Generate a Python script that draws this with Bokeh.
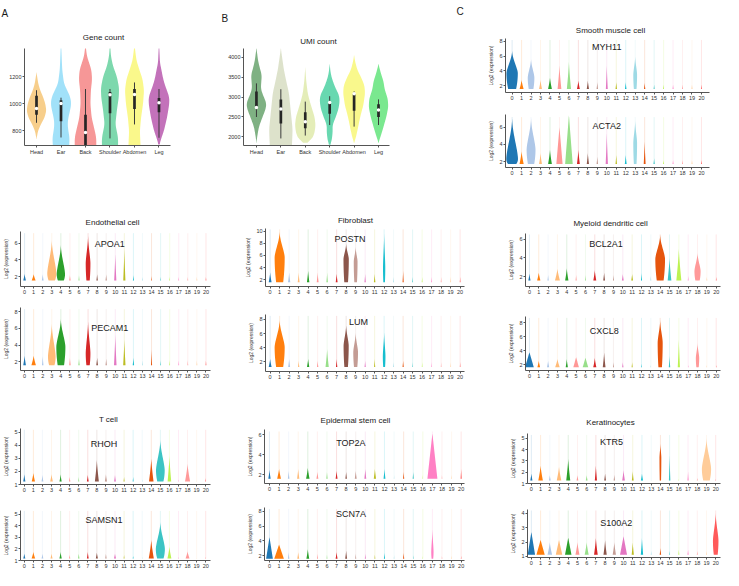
import numpy as np
from bokeh.plotting import figure
from bokeh.models import Range1d, FixedTicker, Label, Title
from bokeh.layouts import row, column
from bokeh.embed import file_html
from bokeh.resources import INLINE

FONT = "Liberation Sans"

# ---------------- data: panel A / B ----------------
SITES = ["Head", "Ear", "Back", "Shoulder", "Abdomen", "Leg"]
GENE_COLORS = ["#f5c06a", "#86d9f7", "#f47a7a", "#58cd96", "#f8f66a", "#b24aa6"]
UMI_COLORS = ["#5b9b60", "#d3dabd", "#dce8a4", "#3ecd9a", "#f7f66b", "#55e26f"]

# violin outlines: (value, half width)
GENE_SHAPE_HEAD = [(740, 0), (800, 0.06), (850, 0.18), (900, 0.33), (950, 0.40), (1000, 0.36), (1050, 0.27), (1100, 0.15), (1150, 0.07), (1230, 0)]
GENE_SHAPE_EAR = [(680, 0.33), (750, 0.35), (800, 0.30), (850, 0.27), (900, 0.30), (950, 0.37), (1000, 0.42), (1050, 0.38), (1100, 0.25), (1150, 0.12), (1250, 0.05), (1420, 0.01)]
GENE_SHAPE_BACK = [(680, 0.44), (750, 0.44), (800, 0.38), (900, 0.25), (1000, 0.20), (1100, 0.22), (1180, 0.27), (1250, 0.24), (1300, 0.15), (1350, 0.06), (1420, 0.01)]
GENE_SHAPE_SHOULDER = [(680, 0.33), (750, 0.33), (850, 0.22), (950, 0.28), (1050, 0.36), (1120, 0.37), (1200, 0.28), (1280, 0.12), (1350, 0.04), (1420, 0.01)]
GENE_SHAPE_ABDOMEN = [(680, 0.25), (800, 0.22), (900, 0.27), (1000, 0.35), (1100, 0.39), (1180, 0.33), (1250, 0.20), (1320, 0.08), (1420, 0.01)]
GENE_SHAPE_LEG = [(700, 0.02), (750, 0.10), (800, 0.20), (900, 0.33), (1000, 0.42), (1050, 0.42), (1100, 0.32), (1150, 0.22), (1200, 0.15), (1250, 0.10), (1300, 0.04), (1420, 0.01)]
GENE_Q1 = [920, 871, 693, 931, 962, 938]
GENE_Q3 = [1060, 1026, 919, 1086, 1109, 1043]
GENE_MED = [965, 1002, 788, 1067, 1069, 1007]
GENE_WLO = [860, 752, 693, 745, 848, 750]
GENE_WHI = [1100, 1045, 1109, 1109, 1157, 1109]

UMI_SHAPE_HEAD = [(1855, 0), (2000, 0.03), (2250, 0.10), (2500, 0.25), (2700, 0.38), (2850, 0.41), (3000, 0.30), (3200, 0.18), (3400, 0.20), (3550, 0.22), (3700, 0.15), (3900, 0.07), (4224, 0)]
UMI_SHAPE_EAR = [(1750, 0.45), (2000, 0.47), (2200, 0.48), (2500, 0.43), (2800, 0.38), (3100, 0.33), (3400, 0.22), (3700, 0.12), (4000, 0.05), (4224, 0)]
UMI_SHAPE_BACK = [(1850, 0.05), (1950, 0.28), (2100, 0.38), (2300, 0.42), (2500, 0.38), (2700, 0.28), (2900, 0.18), (3100, 0.10), (3400, 0.04), (3742, 0)]
UMI_SHAPE_SHOULDER = [(1800, 0.02), (1900, 0.08), (2100, 0.12), (2300, 0.12), (2500, 0.25), (2700, 0.36), (2900, 0.41), (3050, 0.38), (3250, 0.22), (3450, 0.10), (3600, 0.04), (3823, 0)]
UMI_SHAPE_ABDOMEN = [(1855, 0), (2000, 0.08), (2200, 0.15), (2500, 0.25), (2800, 0.38), (3100, 0.45), (3300, 0.42), (3500, 0.28), (3700, 0.12), (3900, 0.04), (4040, 0)]
UMI_SHAPE_LEG = [(1855, 0), (2000, 0.08), (2200, 0.18), (2500, 0.32), (2750, 0.40), (2950, 0.38), (3200, 0.25), (3400, 0.20), (3550, 0.12), (3700, 0.05), (3823, 0)]
UMI_Q1 = [2739, 2337, 2217, 2578, 2658, 2498]
UMI_Q3 = [3140, 2940, 2619, 2860, 3084, 2819]
UMI_MED = [2739, 2699, 2378, 2860, 3084, 2675]
UMI_WLO = [2498, 1960, 2032, 2297, 2257, 2297]
UMI_WHI = [3342, 3195, 2884, 3020, 3140, 2940]

# ---------------- data: cluster violins ----------------
CLUSTERS = list(range(21))
PALETTE = ["#1f77b4", "#ff7f0e", "#aec7e8", "#ffbb78", "#2ca02c", "#ff9896", "#98df8a",
           "#d62728", "#8c564b", "#c49c94", "#e377c2", "#bcbd22", "#17becf", "#9edae5",
           "#e6550d", "#3cc4c4", "#bdf252", "#ff80c4", "#ff9999", "#ffcc99", "#ff5a5a"]

# H: top of the visible violin body, W: half width, P: value of widest point (0 = at the base)
MYH11_H = [6.8, 2.8, 5.7, 2.8, 3.1, 4.8, 5.3, 2.7, 2.7, 2.5, 4.8, 2.5, 2.5, 6.1, 2.4, 2.2, 2.2, 2.2, 2.2, 2.2, 2.2]
MYH11_W = [0.60, 0.21, 0.35, 0.15, 0.20, 0.20, 0.22, 0.15, 0.12, 0.08, 0.10, 0.08, 0.08, 0.20, 0.07, 0.05, 0.05, 0.05, 0.05, 0.05, 0.05]
MYH11_P = [3.7, 0, 3.1, 0, 0, 0, 0, 0, 0, 0, 0, 0, 0, 3.5, 0, 0, 0, 0, 0, 0, 0]

ACTA2_H = [7.2, 3.2, 7.2, 3.0, 3.4, 6.0, 7.4, 3.4, 3.0, 2.6, 5.4, 2.8, 2.8, 6.9, 4.4, 2.4, 2.2, 2.2, 2.2, 2.2, 2.2]
ACTA2_W = [0.62, 0.22, 0.47, 0.15, 0.20, 0.33, 0.40, 0.15, 0.12, 0.08, 0.12, 0.08, 0.10, 0.20, 0.10, 0.07, 0.05, 0.05, 0.05, 0.05, 0.05]
ACTA2_P = [2.3, 0, 3.4, 0, 0, 0, 0, 0, 0, 0, 0, 0, 0, 4.2, 0, 0, 0, 0, 0, 0, 0]

APOA1_H = [2.35, 2.3, 2.3, 6.5, 5.9, 2.2, 2.2, 7.0, 2.3, 2.3, 4.8, 5.4, 2.2, 2.0, 2.1, 2.0, 2.0, 2.0, 2.0, 2.0, 2.0]
APOA1_W = [0.15, 0.22, 0.10, 0.50, 0.46, 0.08, 0.06, 0.26, 0.08, 0.08, 0.12, 0.12, 0.06, 0.04, 0.04, 0.04, 0.04, 0.04, 0.04, 0.04, 0.04]
APOA1_P = [0, 0, 0, 2.4, 2.3, 0, 0, 3.6, 0, 0, 0, 0, 0, 0, 0, 0, 0, 0, 0, 0, 0]

PECAM1_H = [2.75, 2.75, 2.7, 6.7, 7.2, 2.5, 2.4, 7.0, 2.5, 2.4, 5.3, 4.7, 2.5, 2.2, 3.5, 2.2, 2.2, 2.2, 2.2, 2.2, 2.2]
PECAM1_W = [0.15, 0.25, 0.08, 0.42, 0.50, 0.08, 0.08, 0.26, 0.10, 0.08, 0.14, 0.13, 0.08, 0.04, 0.06, 0.04, 0.04, 0.04, 0.04, 0.04, 0.04]
PECAM1_P = [0, 0, 0, 2.6, 3.8, 0, 0, 3.0, 0, 0, 0, 0, 0, 0, 0, 0, 0, 0, 0, 0, 0]

POSTN_H = [3.2, 10.0, 3.2, 3.2, 3.5, 3.2, 3.2, 3.0, 8.0, 7.5, 3.0, 3.0, 10.0, 2.5, 3.5, 2.5, 2.5, 2.5, 2.5, 2.5, 2.5]
POSTN_W = [0.15, 0.53, 0.12, 0.10, 0.13, 0.10, 0.08, 0.10, 0.28, 0.20, 0.07, 0.08, 0.12, 0.04, 0.06, 0.04, 0.04, 0.04, 0.04, 0.04, 0.04]
POSTN_P = [0, 5.7, 0, 0, 0, 0, 0, 0, 5.4, 5.0, 0, 0, 4.0, 0, 0, 0, 0, 0, 0, 0, 0]

LUM_H = [2.45, 8.0, 2.45, 2.2, 2.45, 2.2, 3.85, 2.45, 7.3, 6.2, 2.2, 2.45, 6.4, 2.0, 2.2, 2.0, 2.0, 2.0, 2.0, 2.0, 2.0]
LUM_W = [0.15, 0.53, 0.10, 0.07, 0.12, 0.07, 0.17, 0.07, 0.27, 0.25, 0.06, 0.06, 0.14, 0.04, 0.06, 0.03, 0.03, 0.03, 0.03, 0.03, 0.03]
LUM_P = [0, 4.1, 0, 0, 0, 0, 0, 0, 4.3, 3.4, 0, 0, 2.8, 0, 0, 0, 0, 0, 0, 0, 0]

BCL2A1_H = [2.35, 2.45, 2.2, 2.85, 2.9, 2.2, 2.2, 2.7, 2.45, 2.2, 2.3, 2.3, 2.4, 2.1, 6.5, 4.0, 5.0, 2.1, 4.6, 2.0, 2.0]
BCL2A1_W = [0.12, 0.18, 0.07, 0.27, 0.18, 0.06, 0.05, 0.16, 0.10, 0.06, 0.10, 0.10, 0.06, 0.04, 0.52, 0.20, 0.27, 0.04, 0.33, 0.04, 0.04]
BCL2A1_P = [0, 0, 0, 0, 0, 0, 0, 0, 0, 0, 0, 0, 0, 0, 3.9, 0, 0, 0, 2.6, 0, 0]

CXCL8_H = [3.8, 2.6, 2.6, 2.85, 2.85, 3.1, 3.0, 3.0, 3.8, 2.4, 2.4, 2.4, 2.2, 2.0, 8.5, 3.3, 5.7, 2.0, 5.2, 2.0, 2.0]
CXCL8_W = [0.47, 0.15, 0.12, 0.25, 0.12, 0.30, 0.30, 0.17, 0.15, 0.06, 0.07, 0.06, 0.04, 0.03, 0.27, 0.08, 0.12, 0.03, 0.18, 0.03, 0.03]
CXCL8_P = [0, 0, 0, 0, 0, 0, 0, 0, 0, 0, 0, 0, 0, 0, 5.2, 0, 0, 0, 3.0, 0, 0]

RHOH_H = [1.8, 1.9, 1.75, 1.8, 1.8, 1.6, 1.6, 1.75, 2.9, 1.8, 1.75, 1.6, 1.6, 1.4, 3.0, 4.5, 3.2, 1.4, 2.6, 1.3, 1.5]
RHOH_W = [0.12, 0.18, 0.10, 0.15, 0.12, 0.08, 0.06, 0.10, 0.22, 0.12, 0.10, 0.06, 0.05, 0.03, 0.25, 0.48, 0.20, 0.03, 0.28, 0.02, 0.04]
RHOH_P = [0, 0, 0, 0, 0, 0, 0, 0, 0, 0, 0, 0, 0, 0, 0, 2.1, 0, 0, 0, 0, 0]

SAMSN1_H = [1.6, 1.75, 1.6, 1.6, 1.75, 1.5, 1.6, 1.75, 1.7, 1.6, 1.6, 1.5, 1.4, 1.3, 2.8, 4.4, 2.2, 1.3, 1.8, 1.2, 1.3]
SAMSN1_W = [0.12, 0.20, 0.10, 0.12, 0.13, 0.07, 0.09, 0.10, 0.12, 0.08, 0.12, 0.05, 0.05, 0.03, 0.28, 0.50, 0.22, 0.04, 0.22, 0.02, 0.03]
SAMSN1_P = [0, 0, 0, 0, 0, 0, 0, 0, 0, 0, 0, 0, 0, 0, 0, 2.0, 0, 0, 0, 0, 0]

TOP2A_H = [2.5, 2.6, 2.4, 2.6, 2.7, 2.3, 2.3, 2.4, 2.3, 2.4, 2.6, 2.6, 2.6, 2.0, 2.3, 2.3, 2.0, 6.1, 2.0, 2.0, 2.6]
TOP2A_W = [0.12, 0.20, 0.08, 0.12, 0.18, 0.10, 0.07, 0.10, 0.08, 0.10, 0.10, 0.12, 0.10, 0.02, 0.06, 0.06, 0.02, 0.52, 0.03, 0.03, 0.06]
TOP2A_P = [0] * 21

SCN7A_H = [4.5, 3.5, 2.5, 2.5, 2.9, 2.3, 2.2, 2.5, 2.7, 2.3, 2.3, 2.2, 2.4, 2.1, 2.4, 2.1, 2.0, 5.8, 2.0, 2.0, 2.0]
SCN7A_W = [0.35, 0.50, 0.07, 0.10, 0.15, 0.05, 0.04, 0.10, 0.10, 0.05, 0.05, 0.04, 0.06, 0.03, 0.06, 0.03, 0.02, 0.12, 0.03, 0.03, 0.03]
SCN7A_P = [0, 0, 0, 0, 0, 0, 0, 0, 0, 0, 0, 0, 0, 0, 0, 0, 0, 2.5, 0, 0, 0]

KTR5_H = [1.9, 2.6, 1.75, 2.5, 3.2, 1.75, 1.75, 2.6, 1.9, 1.8, 2.2, 2.1, 1.9, 1.3, 4.6, 3.6, 1.4, 2.1, 1.5, 5.1, 1.4]
KTR5_W = [0.12, 0.25, 0.10, 0.25, 0.22, 0.10, 0.10, 0.12, 0.10, 0.08, 0.15, 0.10, 0.12, 0.02, 0.10, 0.08, 0.03, 0.06, 0.05, 0.50, 0.03]
KTR5_P = [0, 0, 0, 0, 0, 0, 0, 0, 0, 0, 0, 0, 0, 0, 3.3, 0, 0, 0, 0, 2.3, 0]

S100A2_H = [2.7, 2.15, 2.0, 2.15, 2.3, 2.0, 2.0, 2.3, 2.15, 2.0, 2.4, 2.0, 2.3, 1.4, 1.6, 1.4, 1.5, 1.5, 1.4, 1.4, 4.1]
S100A2_W = [0.40, 0.45, 0.25, 0.35, 0.35, 0.22, 0.22, 0.20, 0.18, 0.18, 0.38, 0.12, 0.13, 0.04, 0.08, 0.04, 0.05, 0.06, 0.05, 0.04, 0.30]
S100A2_P = [0] * 20 + [2.1]

# per gene: minimum (base) and maximum expression
GENE_BASE = {"MYH11": 1.55, "ACTA2": 1.7, "APOA1": 1.53, "PECAM1": 1.56, "POSTN": 1.56, "LUM": 1.3,
             "BCL2A1": 1.58, "CXCL8": 1.65, "RHOH": 1.23, "SAMSN1": 1.17, "TOP2A": 1.6, "SCN7A": 1.6,
             "KTR5": 1.26, "S100A2": 1.12}
GENE_MAX = {"MYH11": 8.2, "ACTA2": 7.2, "APOA1": 7.2, "PECAM1": 8.3, "POSTN": 10.3, "LUM": 8.5,
            "BCL2A1": 6.5, "CXCL8": 8.7, "RHOH": 5.2, "SAMSN1": 5.3, "TOP2A": 6.3, "SCN7A": 8.3,
            "KTR5": 5.3, "S100A2": 4.2}


# ---------------- helpers ----------------
def base_fig(cell, frame, xr, yr):
    cx0, cy0, cx1, cy1 = cell
    fx0, fy0, fx1, fy1 = frame
    p = figure(width=cx1 - cx0, height=cy1 - cy0, x_range=Range1d(*xr), y_range=Range1d(*yr),
               output_backend="svg", toolbar_location=None,
               min_border_left=fx0 - cx0, min_border_right=cx1 - fx1,
               min_border_top=fy0 - cy0, min_border_bottom=cy1 - fy1)
    p.outline_line_color = None
    p.xgrid.visible = False
    p.ygrid.visible = False
    p.background_fill_color = "white"
    p.border_fill_color = "white"
    for ax in (p.xaxis, p.yaxis):
        ax.axis_line_color = "#555555"
        ax.axis_line_width = 1
        ax.major_tick_line_color = "#555555"
        ax.minor_tick_line_color = None
        ax.major_tick_out = 2
        ax.major_tick_in = 0
        ax.major_label_text_font = FONT
        ax.major_label_text_color = "#333333"
        ax.major_label_standoff = 1
    return p


def style_title(t, size):
    t.text_font = FONT
    t.text_font_size = size
    t.text_font_style = "normal"
    t.text_color = "#1a1a1a"
    t.align = "left"


def set_title(p, text, standoff, offset):
    p.title.text = text
    p.title.offset = offset
    p.title.standoff = standoff
    style_title(p.title, "8px")


def add_main_title_and_letter(p, text, standoff, offset, letter, l_standoff, l_offset):
    # letter is the outermost title, the panel title sits just above the frame
    p.title.text = letter
    p.title.offset = l_offset
    p.title.standoff = l_standoff
    style_title(p.title, "10px")
    t = Title(text=text, offset=offset, standoff=standoff)
    style_title(t, "8px")
    p.add_layout(t, "above")


def smooth_outline(cx, knots, n=90):
    ky = np.array([k[0] for k in knots], dtype=float)
    kw = np.array([k[1] for k in knots], dtype=float)
    yy = np.linspace(ky[0], ky[-1], n)
    ww = np.interp(yy, ky, kw)
    ker = np.ones(7) / 7.0
    ww = np.convolve(np.pad(ww, 3, mode="edge"), ker, mode="valid")
    xs = np.concatenate([cx - ww, (cx + ww)[::-1]])
    ys = np.concatenate([yy, yy[::-1]])
    return list(xs), list(ys)


def site_fig(cell, frame, xr, yr, yticks, shapes, colors, q1, q3, med, wlo, whi):
    p = base_fig(cell, frame, xr, yr)
    xs, ys = [], []
    for i, shp in enumerate(shapes):
        a, b = smooth_outline(i, shp)
        xs.append(a)
        ys.append(b)
    p.patches(xs, ys, fill_color=colors, fill_alpha=0.78, line_color=None)
    cats = list(range(len(shapes)))
    p.segment(x0=cats, y0=wlo, x1=cats, y1=whi, line_color="#3a3a3a", line_width=1)
    p.vbar(x=cats, bottom=q1, top=q3, width=0.11, fill_color="#262626", line_color=None)
    p.scatter(x=cats, y=med, size=3.5, fill_color="white", line_color=None)
    p.xaxis.ticker = FixedTicker(ticks=cats)
    p.xaxis.major_label_overrides = {i: s for i, s in enumerate(SITES)}
    p.yaxis.ticker = FixedTicker(ticks=yticks)
    p.xaxis.major_label_text_font_size = "5.5px"
    p.yaxis.major_label_text_font_size = "5.5px"
    return p


def cluster_violin(ci, base, h, w, pk, n=40):
    h = max(h, base + 0.08)
    ys = np.linspace(base, h, n)
    if pk > base:
        t = np.clip((ys - base) / (pk - base), 0, 1)
        s = np.clip((ys - pk) / (h - pk), 0, 1)
        hw = np.where(ys <= pk, w * (0.7 + 0.3 * (1 - (1 - t) ** 2)), w * (1 - s ** 1.5) ** 2)
    else:
        s = (ys - base) / (h - base)
        hw = w * (1 - s) ** (1.0 if w >= 0.3 else 1.3)
    xs = np.concatenate([ci - hw, (ci + hw)[::-1]])
    yy = np.concatenate([ys, ys[::-1]])
    return list(xs), list(yy)


def cluster_fig(gene, H, W, P, cell, frame, xr, yr, yticks, gene_pos):
    p = base_fig(cell, frame, xr, yr)
    base = GENE_BASE[gene]
    top = GENE_MAX[gene]
    p.segment(x0=CLUSTERS, y0=[base] * 21, x1=CLUSTERS, y1=[top] * 21,
              line_color=PALETTE, line_alpha=0.15, line_width=1)
    xs, ys = [], []
    for c in CLUSTERS:
        a, b = cluster_violin(c, base, H[c], W[c], P[c])
        xs.append(a)
        ys.append(b)
    p.patches(xs, ys, fill_color=PALETTE, fill_alpha=1.0, line_color=None)
    p.xaxis.ticker = FixedTicker(ticks=CLUSTERS)
    p.yaxis.ticker = FixedTicker(ticks=yticks)
    p.xaxis.major_label_text_font_size = "5.5px"
    p.yaxis.major_label_text_font_size = "5.5px"
    p.yaxis.axis_label = "Log2 (expression)"
    p.yaxis.axis_label_text_font = FONT
    p.yaxis.axis_label_text_font_size = "5px"
    p.yaxis.axis_label_text_font_style = "normal"
    p.yaxis.axis_label_text_color = "#333333"
    p.yaxis.axis_label_standoff = 2
    p.add_layout(Label(x=gene_pos[0], y=gene_pos[1], text=gene, text_font=FONT, text_font_size="9px",
                       text_align="center", text_baseline="middle", text_color="#1a1a1a"))
    return p


# ---------------- row 1 ----------------
figA = site_fig((0, 0, 215, 182), (24, 47, 170, 147), (-0.49, 5.47), (693, 1407), [800, 1000, 1200],
                [GENE_SHAPE_HEAD, GENE_SHAPE_EAR, GENE_SHAPE_BACK, GENE_SHAPE_SHOULDER, GENE_SHAPE_ABDOMEN, GENE_SHAPE_LEG],
                GENE_COLORS, GENE_Q1, GENE_Q3, GENE_MED, GENE_WLO, GENE_WHI)
add_main_title_and_letter(figA, "Gene count", 13.5, 58.3, "A", 9.5, -23)

figB = site_fig((215, 0, 445, 182), (243, 44, 389, 145), (-0.53, 5.45), (1783, 4217), [2000, 2500, 3000, 3500, 4000],
                [UMI_SHAPE_HEAD, UMI_SHAPE_EAR, UMI_SHAPE_BACK, UMI_SHAPE_SHOULDER, UMI_SHAPE_ABDOMEN, UMI_SHAPE_LEG],
                UMI_COLORS, UMI_Q1, UMI_Q3, UMI_MED, UMI_WLO, UMI_WHI)
add_main_title_and_letter(figB, "UMI count", 5.5, 56.7, "B", 14.5, -22)

figMYH11 = cluster_fig("MYH11", MYH11_H, MYH11_W, MYH11_P, (445, 0, 723, 104), (505, 37, 709, 92),
                       (-0.7, 20.85), (1.07, 8.4), [2, 4, 6, 8], (10, 7.2))
add_main_title_and_letter(figMYH11, "Smooth muscle cell", 6.5, 70.3, "C", 6.5, -49)
figACTA2 = cluster_fig("ACTA2", ACTA2_H, ACTA2_W, ACTA2_P, (445, 104, 723, 182), (505, 114, 709, 167),
                       (-0.7, 20.85), (1.3, 7.5), [2, 4, 6], (10, 6.1))

# ---------------- row 2 ----------------
figAPOA1 = cluster_fig("APOA1", APOA1_H, APOA1_W, APOA1_P, (0, 182, 215, 298), (12, 231, 210, 286),
                       (-0.45, 20.5), (0.82, 7.4), [2, 4, 6], (9.4, 5.9))
set_title(figAPOA1, "Endothelial cell", 10, 65.1)
figPECAM1 = cluster_fig("PECAM1", PECAM1_H, PECAM1_W, PECAM1_P, (0, 298, 215, 393), (12, 307, 210, 370),
                        (-0.45, 20.5), (0.94, 8.5), [2, 4, 6, 8], (9.4, 6.1))
figPOSTN = cluster_fig("POSTN", POSTN_H, POSTN_W, POSTN_P, (215, 182, 470, 298), (265, 228, 464, 286),
                       (-0.49, 20.46), (0.86, 10.45), [2, 4, 6, 8, 10], (8.4, 8.7))
set_title(figPOSTN, "Fibroblast", 7, 72.4)
figLUM = cluster_fig("LUM", LUM_H, LUM_W, LUM_P, (215, 298, 470, 393), (265, 314, 464, 371),
                     (-0.49, 20.46), (0.65, 8.7), [2, 4, 6, 8], (9.3, 7.6))
figBCL2A1 = cluster_fig("BCL2A1", BCL2A1_H, BCL2A1_W, BCL2A1_P, (470, 182, 723, 298), (525, 233, 720, 286),
                        (-0.42, 20.46), (0.95, 6.6), [2, 4, 6], (8.2, 5.5))
set_title(figBCL2A1, "Myeloid dendritic cell", 12, 47.9)
figCXCL8 = cluster_fig("CXCL8", CXCL8_H, CXCL8_W, CXCL8_P, (470, 298, 723, 393), (525, 316, 720, 370),
                       (-0.42, 20.46), (1.2, 8.9), [2, 4, 6, 8], (8.0, 6.8))

# ---------------- row 3 ----------------
figRHOH = cluster_fig("RHOH", RHOH_H, RHOH_W, RHOH_P, (0, 393, 215, 497), (12, 428, 210, 484),
                      (-0.42, 20.53), (1.0, 5.3), [1, 2, 3, 4, 5], (8.8, 4.1))
set_title(figRHOH, "T cell", 9, 78.4)
figSAMSN1 = cluster_fig("SAMSN1", SAMSN1_H, SAMSN1_W, SAMSN1_P, (0, 497, 215, 570), (12, 510, 210, 560),
                        (-0.42, 20.53), (1.0, 5.33), [1, 2, 3, 4, 5], (8.8, 4.5))
figTOP2A = cluster_fig("TOP2A", TOP2A_H, TOP2A_W, TOP2A_P, (215, 393, 470, 497), (264, 429, 464, 483),
                       (-0.52, 20.35), (1.12, 6.5), [2, 4, 6], (8.5, 5.2))
set_title(figTOP2A, "Epidermal stem cell", 10, 56.1)
figSCN7A = cluster_fig("SCN7A", SCN7A_H, SCN7A_W, SCN7A_P, (215, 497, 470, 570), (264, 507, 464, 560),
                       (-0.52, 20.35), (1.35, 8.5), [2, 4, 6, 8], (8.5, 7.6))
figKTR5 = cluster_fig("KTR5", KTR5_H, KTR5_W, KTR5_P, (470, 393, 723, 497), (527, 433, 720, 483),
                      (-0.42, 20.52), (1.0, 5.43), [1, 2, 3, 4, 5], (8.7, 4.7))
set_title(figKTR5, "Keratinocytes", 14, 58.8)
figS100A2 = cluster_fig("S100A2", S100A2_H, S100A2_W, S100A2_P, (470, 497, 723, 570), (527, 509, 720, 557),
                        (-0.42, 20.52), (0.93, 4.27), [1, 2, 3, 4], (9.2, 3.3))

row1 = row(figA, figB, column(figMYH11, figACTA2, spacing=0), spacing=0)
row2 = row(column(figAPOA1, figPECAM1, spacing=0), column(figPOSTN, figLUM, spacing=0),
           column(figBCL2A1, figCXCL8, spacing=0), spacing=0)
row3 = row(column(figRHOH, figSAMSN1, spacing=0), column(figTOP2A, figSCN7A, spacing=0),
           column(figKTR5, figS100A2, spacing=0), spacing=0)
page = column(row1, row2, row3, spacing=0)

open("out.html", "w").write(file_html(page, INLINE))
